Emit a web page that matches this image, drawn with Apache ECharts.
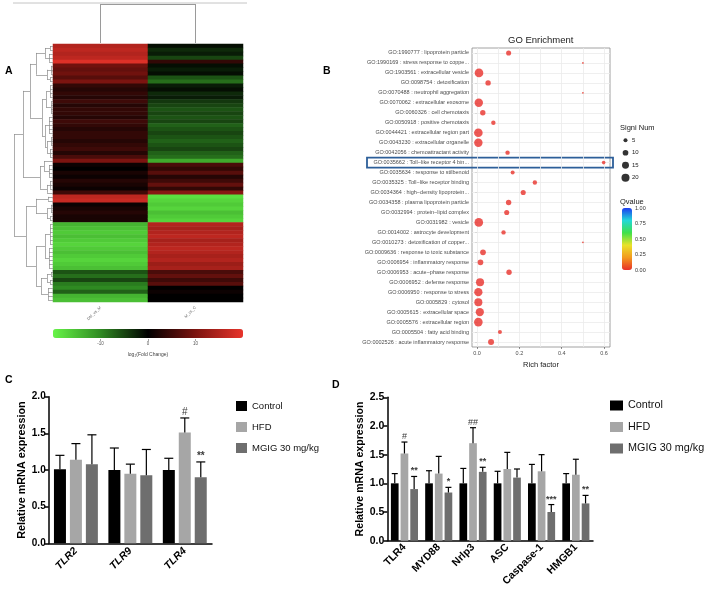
<!DOCTYPE html>
<html><head><meta charset="utf-8">
<script src="https://cdn.jsdelivr.net/npm/echarts@6/dist/echarts.min.js"></script>
<style>html,body{margin:0;padding:0;background:#fff}#c{width:709px;height:591px}</style>
</head><body><div id="c"></div>
<script>
// ---------- Panel A : heatmap ----------
const heatCols = ['DM_vs_M', 'M_vs_C'];
const heatLeft = [15,16,15,16, 19, 9,8,9,7,10,
  4,3,4,3,5,3,4,4,3,5,4,3,4,4,3,4,5,3,6,
  10, 1,0,2,1,3,2,1, 5, 16,17, 1,2,3,2,2,
  -14,-15,-16,-15,-16,-17,-16,-15,-16,-17,-16,-15,
  -6,-8,-5,-9, -10,-7,-14,-15];
const heatRight = [-1,-3,-2,-5, 4, -1,-2,-1,-6,-8,
  -2,-1,-3,-2,-4,-5,-6,-5,-6,-5,-7,-6,-5,-6,-7,-6,-5,-7,-8,
  -13, 6,4,7,3,5,8,4, 11, -18,-17, -16,-17,-15,-16,-17,
  15,14,15,16,14,15,16,15,14,15,13,14,
  6,8,5,7, 0,1,0,0];
const fcTicks = [-10, 0, 10];
// row dendrogram: h = merge height, c = children, r = fan of leaf rows
const rowTree = {h:39, c:[
  {h:30, c:[
    {h:23, c:[
      {h:17, c:[
        {h:8, c:[{h:3, r:[0,1]}, {h:4, r:[2,4]}]},
        {h:6, c:[{h:2, r:[5,7]}, {h:3, r:[8,9]}]}
      ]},
      {h:11, c:[
        {h:7, c:[{h:3, r:[10,13]}, {h:2, r:[14,17]}]},
        {h:8, c:[{h:4, r:[18,22]}, {h:6, c:[{h:2, r:[23,25]}, {h:3, r:[26,28]}]}]}
      ]}
    ]},
    {h:13, c:[
      {h:9, c:[29, {h:4, r:[30,33]}]},
      {h:6, c:[{h:3, r:[34,36]}, 37]}
    ]}
  ]},
  {h:27, c:[
    {h:17, c:[{h:5, r:[38,39]}, {h:6, c:[{h:2, r:[40,42]}, {h:3, r:[43,44]}]}]},
    {h:17, c:[
      {h:8, c:[{h:3, r:[45,50]}, {h:4, r:[51,56]}]},
      {h:12, c:[{h:6, c:[{h:2, r:[57,58]}, {h:3, r:[59,60]}]}, {h:5, r:[61,64]}]}
    ]}
  ]}
]};
const colTree = {h:39, c:[0, 1]};

// ---------- Panel B : GO enrichment ----------
const goTerms = [
  'GO:1990777 : lipoprotein particle',
  'GO:1990169 : stress response to coppe...',
  'GO:1903561 : extracellular vesicle',
  'GO:0098754 : detoxification',
  'GO:0070488 : neutrophil aggregation',
  'GO:0070062 : extracellular exosome',
  'GO:0060326 : cell chemotaxis',
  'GO:0050918 : positive chemotaxis',
  'GO:0044421 : extracellular region part',
  'GO:0043230 : extracellular organelle',
  'GO:0042056 : chemoattractant activity',
  'GO:0035662 : Toll\u2212like receptor 4 bin...',
  'GO:0035634 : response to stilbenoid',
  'GO:0035325 : Toll\u2212like receptor binding',
  'GO:0034364 : high\u2212density lipoprotein...',
  'GO:0034358 : plasma lipoprotein particle',
  'GO:0032994 : protein\u2212lipid complex',
  'GO:0031982 : vesicle',
  'GO:0014002 : astrocyte development',
  'GO:0010273 : detoxification of copper...',
  'GO:0009636 : response to toxic substance',
  'GO:0006954 : inflammatory response',
  'GO:0006953 : acute\u2212phase response',
  'GO:0006952 : defense response',
  'GO:0006950 : response to stress',
  'GO:0005829 : cytosol',
  'GO:0005615 : extracellular space',
  'GO:0005576 : extracellular region',
  'GO:0005504 : fatty acid binding',
  'GO:0002526 : acute inflammatory response'
];
const richFactor = [0.149,0.5,0.009,0.052,0.5,0.008,0.027,0.077,0.006,0.006,
  0.144,0.598,0.168,0.273,0.218,0.149,0.14,0.008,0.125,0.5,
  0.028,0.016,0.151,0.014,0.006,0.006,0.013,0.006,0.108,0.066];
const signiNum = [8,1,23,9,1,22,9,6,23,22,
  6,4,5,6,8,9,8,23,6,1,
  10,10,9,20,21,20,21,23,5,11];
const qValue = [0.002,0.01,0,0.001,0.01,0,0.001,0.003,0,0,
  0.003,0.004,0.004,0.003,0.002,0.002,0.002,0,0.003,0.01,
  0.001,0.001,0.002,0,0,0,0,0,0.004,0.001];
const richTicks = [0, 0.2, 0.4, 0.6];
const richGridLines = [0, 0.1, 0.2, 0.3, 0.4, 0.5, 0.6];
const sizeLegend = [5, 10, 15, 20];
const qTicks = [0, 0.25, 0.5, 0.75, 1];
const highlightTerm = 'GO:0035662 : Toll\u2212like receptor 4 bin...';

// ---------- Panel C ----------
const groups = ['Control', 'HFD', 'MGIG 30 mg/kg'];
const cGenes = ['TLR2', 'TLR9', 'TLR4'];
const cControl = [1.01, 1.00, 1.00];
const cControlErr = [1.20, 1.30, 1.16];
const cHFD = [1.14, 0.95, 1.51];
const cHFDErr = [1.36, 1.08, 1.71];
const cMGIG = [1.08, 0.93, 0.90];
const cMGIGErr = [1.48, 1.28, 1.11];
const cMarksControl = ['', '', ''];
const cMarksHFD = ['', '', '#'];
const cMarksMGIG = ['', '', '**'];

// ---------- Panel D ----------
const dGenes = ['TLR4', 'MYD88', 'Nrlp3', 'ASC', 'Caspase-1', 'HMGB1'];
const dControl = [1.00, 1.00, 1.00, 1.00, 1.00, 1.00];
const dControlErr = [1.17, 1.22, 1.26, 1.21, 1.33, 1.17];
const dHFD = [1.52, 1.17, 1.70, 1.25, 1.21, 1.15];
const dHFDErr = [1.72, 1.47, 1.97, 1.54, 1.50, 1.42];
const dMGIG = [0.90, 0.84, 1.20, 1.10, 0.50, 0.65];
const dMGIGErr = [1.12, 0.93, 1.28, 1.25, 0.63, 0.79];
const dMarksControl = ['', '', '', '', '', ''];
const dMarksHFD = ['#', '', '##', '', '', ''];
const dMarksMGIG = ['**', '*', '**', '', '***', '**'];

// ================= build =================
const FONT = 'Liberation Sans, Arial, Helvetica, sans-serif';
const chart = echarts.init(document.getElementById('c'), null, {renderer: 'canvas'});

function dendro(node, out, swap) {
  if (typeof node === 'number') return {y: node + 0.5, h: 0};
  let kids;
  if (node.r) { kids = []; for (let i = node.r[0]; i <= node.r[1]; i++) kids.push({y: i + 0.5, h: 0}); }
  else kids = node.c.map(k => dendro(k, out, swap));
  const P = (h, y) => swap ? [y, h] : [h, y];
  kids.forEach(k => out.push({coords: [P(k.h, k.y), P(node.h, k.y)]}));
  const y0 = kids[0].y, y1 = kids[kids.length - 1].y;
  out.push({coords: [P(node.h, y0), P(node.h, y1)]});
  return {y: (y0 + y1) / 2, h: node.h};
}
const rowSegs = []; dendro(rowTree, rowSegs, false);
const colSegs = []; dendro(colTree, colSegs, true);

const heatData = [];
heatLeft.forEach((v, i) => heatData.push([0, i, v]));
heatRight.forEach((v, i) => heatData.push([1, i, v]));
const rowIds = heatLeft.map((_, i) => String(i));

const dotSize = n => 1.8 * Math.sqrt(n);

function errSeries(name, xi, yi, vals, errs, marks, step, cap, fs) {
  const data = [];
  vals.forEach((vs, g) => vs.forEach((v, c) => data.push([c, g, v, errs[g][c]])));
  return {
    type: 'custom', name: name + '_err', xAxisIndex: xi, yAxisIndex: yi, z: 5, silent: true,
    encode: {x: 0, y: [2, 3]},
    data: data,
    renderItem: (params, api) => {
      const c = api.value(0), g = api.value(1), v = api.value(2), e = api.value(3);
      const b = api.coord([c, v]), t = api.coord([c, e]);
      const x = b[0] + (g - 1) * step;
      const kids = [
        {type: 'line', shape: {x1: x, y1: b[1], x2: x, y2: t[1]}, style: {stroke: '#000', lineWidth: 1.2}},
        {type: 'line', shape: {x1: x - cap / 2, y1: t[1], x2: x + cap / 2, y2: t[1]}, style: {stroke: '#000', lineWidth: 1.2}}
      ];
      const m = marks[g][c];
      if (m) kids.push({type: 'text', style: {text: m, x: x, y: t[1] - 1, align: 'center', verticalAlign: 'bottom',
        fill: '#3a3a3a', font: (m.indexOf('*') >= 0 ? 'bold ' : '') + fs + 'px ' + FONT}});
      return {type: 'group', children: kids};
    }
  };
}
const barColors = ['#000000', '#a6a6a6', '#6e6e6e'];

const series = [];
const S = {};
S.heat = series.length; series.push({type: 'heatmap', xAxisIndex: 0, yAxisIndex: 0, data: heatData, silent: true});
series.push({type: 'lines', coordinateSystem: 'cartesian2d', xAxisIndex: 1, yAxisIndex: 1, data: rowSegs, silent: true,
  lineStyle: {color: '#8a8a8a', width: 0.7, opacity: 1}});
series.push({type: 'lines', coordinateSystem: 'cartesian2d', xAxisIndex: 2, yAxisIndex: 2, data: colSegs, silent: true,
  lineStyle: {color: '#9a9a9a', width: 1, opacity: 1}});
// GO grid lines (drawn beneath the dots)
series.push({type: 'scatter', xAxisIndex: 4, yAxisIndex: 4, z: 1, silent: true, symbolSize: 0,
  data: [[0, goTerms[0]]], itemStyle: {opacity: 0},
  markLine: {z: 1, silent: true, symbol: 'none', label: {show: false}, animation: false,
    lineStyle: {color: '#ebebeb', width: 0.8, type: 'solid'},
    data: richGridLines.map(v => ({xAxis: v})).concat(goTerms.map(t => ({yAxis: t})))}});
S.go = series.length;
series.push({type: 'scatter', xAxisIndex: 4, yAxisIndex: 4, z: 6, silent: true,
  data: goTerms.map((t, i) => [richFactor[i], t, qValue[i], signiNum[i]]),
  symbolSize: d => dotSize(d[3])});
series.push({type: 'scatter', xAxisIndex: 6, yAxisIndex: 6, silent: true,
  data: sizeLegend.map(v => [0, String(v), v]), symbolSize: d => dotSize(d[2]), itemStyle: {color: '#000'}});
// Panel C bars
const cVals = [cControl, cHFD, cMGIG], cErrs = [cControlErr, cHFDErr, cMGIGErr];
groups.forEach((g, i) => series.push({type: 'bar', name: g, xAxisIndex: 7, yAxisIndex: 7, data: cVals[i],
  barWidth: 12, barGap: '33%', itemStyle: {color: barColors[i]}, silent: true}));
series.push(errSeries('C', 7, 7, cVals, cErrs, [cMarksControl, cMarksHFD, cMarksMGIG], 16, 9, 10));
// Panel D bars
const dVals = [dControl, dHFD, dMGIG], dErrs = [dControlErr, dHFDErr, dMGIGErr];
groups.forEach((g, i) => series.push({type: 'bar', name: g, xAxisIndex: 8, yAxisIndex: 8, data: dVals[i],
  barWidth: 7.7, barGap: '26%', itemStyle: {color: barColors[i]}, silent: true}));
series.push(errSeries('D', 8, 8, dVals, dErrs, [dMarksControl, dMarksHFD, dMarksMGIG], 9.7, 6, 9));

const hidden = {show: false};
const option = {
  animation: false,
  backgroundColor: '#fff',
  textStyle: {fontFamily: FONT},
  title: [
    {text: 'A', left: 5, top: 66, padding: 0, textStyle: {fontSize: 10.5, fontWeight: 'bold', color: '#000'}},
    {text: 'B', left: 323, top: 66, padding: 0, textStyle: {fontSize: 10.5, fontWeight: 'bold', color: '#000'}},
    {text: 'C', left: 5, top: 375, padding: 0, textStyle: {fontSize: 10.5, fontWeight: 'bold', color: '#000'}},
    {text: 'D', left: 332, top: 380, padding: 0, textStyle: {fontSize: 10.5, fontWeight: 'bold', color: '#000'}},
    {text: 'GO Enrichment', left: 508, top: 35, padding: 0, textStyle: {fontSize: 9.5, fontWeight: 'normal', color: '#1a1a1a'}},
    {text: 'Signi Num', left: 620, top: 124, padding: 0, textStyle: {fontSize: 7.5, fontWeight: 'normal', color: '#1a1a1a'}},
    {text: 'Qvalue', left: 620, top: 198, padding: 0, textStyle: {fontSize: 7.5, fontWeight: 'normal', color: '#1a1a1a'}}
  ],
  grid: [
    {left: 53, top: 44, width: 190, height: 258},          // 0 heatmap
    {left: 14, top: 44, width: 39, height: 258},           // 1 row dendro
    {left: 53, top: 4, width: 190, height: 39},            // 2 col dendro
    {left: 53, top: 338, width: 190, height: 1},           // 3 fc axis
    {left: 472, top: 48, width: 138, height: 299, show: true, borderColor: '#8a8a8a', borderWidth: 0.8, backgroundColor: '#fff'}, // 4 GO
    {left: 622, top: 208, width: 10, height: 62},          // 5 qvalue axis
    {left: 620, top: 134, width: 11, height: 50},          // 6 size legend
    {left: 48.7, top: 396.7, width: 163.3, height: 146.6}, // 7 C
    {left: 387.3, top: 397.3, width: 205.7, height: 143.4} // 8 D
  ],
  xAxis: [
    {gridIndex: 0, type: 'category', data: heatCols, axisLine: hidden, axisTick: hidden, splitLine: hidden,
      axisLabel: {rotate: 45, fontSize: 4, color: '#666', margin: 5}},
    {gridIndex: 1, type: 'value', min: 0, max: 39, inverse: true, show: false},
    {gridIndex: 2, type: 'value', min: 0, max: 2, show: false},
    {gridIndex: 3, type: 'value', min: -20, max: 20, axisLine: hidden, splitLine: hidden,
      axisTick: {show: true, customValues: fcTicks, length: 2, lineStyle: {color: '#666', width: 0.6}},
      axisLabel: {customValues: fcTicks, fontSize: 4.5, color: '#555', margin: 2},
      name: 'log\u2082(Fold Change)', nameLocation: 'middle', nameGap: 13, nameTextStyle: {fontSize: 5, color: '#444'}},
    {gridIndex: 4, type: 'value', min: -0.024, max: 0.628, axisLine: hidden, splitLine: hidden,
      axisTick: {show: true, customValues: richTicks, length: 2, lineStyle: {color: '#444', width: 0.6}},
      axisLabel: {customValues: richTicks, formatter: v => v.toFixed(1), fontSize: 5.5, color: '#4d4d4d', margin: 3},
      name: 'Rich factor', nameLocation: 'middle', nameGap: 14, nameTextStyle: {fontSize: 7.5, color: '#1a1a1a'}},
    {gridIndex: 5, type: 'value', show: false},
    {gridIndex: 6, type: 'value', min: -1, max: 1, show: false},
    {gridIndex: 7, type: 'category', data: cGenes,
      axisLine: {lineStyle: {color: '#000', width: 1.5}},
      axisTick: {alignWithLabel: true, length: 4, lineStyle: {color: '#000', width: 1.5}},
      axisLabel: {interval: 0, rotate: 45, fontStyle: 'italic', fontWeight: 'bold', fontSize: 10.5, color: '#000', margin: 6}},
    {gridIndex: 8, type: 'category', data: dGenes,
      axisLine: {lineStyle: {color: '#000', width: 1.5}},
      axisTick: {alignWithLabel: true, length: 4, lineStyle: {color: '#000', width: 1.5}},
      axisLabel: {interval: 0, rotate: 45, fontWeight: 'bold', fontSize: 10.5, color: '#000', margin: 5}}
  ],
  yAxis: [
    {gridIndex: 0, type: 'category', data: rowIds, inverse: true, show: false},
    {gridIndex: 1, type: 'value', min: 0, max: heatLeft.length, inverse: true, show: false},
    {gridIndex: 2, type: 'value', min: 0, max: colTree.h, show: false},
    {gridIndex: 3, type: 'value', show: false},
    {gridIndex: 4, type: 'category', data: goTerms, inverse: true, axisLine: hidden, splitLine: hidden,
      axisTick: {show: true, alignWithLabel: true, length: 2, lineStyle: {color: '#444', width: 0.6}},
      axisLabel: {interval: 0, fontSize: 5.5, color: '#4d4d4d', margin: 3}},
    {gridIndex: 5, type: 'value', min: 0, max: 1, interval: 0.25, position: 'right', axisLine: hidden, axisTick: hidden, splitLine: hidden,
      axisLabel: {formatter: v => v.toFixed(2), fontSize: 5.5, color: '#333', margin: 3}},
    {gridIndex: 6, type: 'category', data: sizeLegend.map(String), inverse: true, position: 'right',
      axisLine: hidden, axisTick: hidden, splitLine: hidden, axisLabel: {fontSize: 6, color: '#222', margin: 1}},
    {gridIndex: 7, type: 'value', min: 0, max: 2, interval: 0.5, splitLine: hidden,
      axisLine: {show: true, lineStyle: {color: '#000', width: 1.5}},
      axisTick: {show: true, length: 4, lineStyle: {color: '#000', width: 1.5}},
      axisLabel: {formatter: v => v.toFixed(1), fontWeight: 'bold', fontSize: 10, color: '#000', margin: 3},
      name: 'Relative mRNA expression', nameLocation: 'middle', nameGap: 21,
      nameTextStyle: {fontWeight: 'bold', fontSize: 10.8, color: '#000'}},
    {gridIndex: 8, type: 'value', min: 0, max: 2.5, interval: 0.5, splitLine: hidden,
      axisLine: {show: true, lineStyle: {color: '#000', width: 1.5}},
      axisTick: {show: true, length: 4, lineStyle: {color: '#000', width: 1.5}},
      axisLabel: {formatter: v => v.toFixed(1), fontWeight: 'bold', fontSize: 10.5, color: '#000', margin: 3},
      name: 'Relative mRNA expression', nameLocation: 'middle', nameGap: 22,
      nameTextStyle: {fontWeight: 'bold', fontSize: 10.6, color: '#000'}}
  ],
  visualMap: [
    {type: 'continuous', seriesIndex: S.heat, dimension: 2, min: -20, max: 20, orient: 'horizontal',
      left: 53, top: 329, itemWidth: 9, itemHeight: 190, padding: 0, calculable: false, hoverLink: false, text: null,
      inRange: {color: ['#66f447', '#2f8a22', '#000000', '#7c1410', '#e8342b']}},
    {type: 'continuous', seriesIndex: S.go, dimension: 2, min: 0, max: 1, orient: 'vertical',
      left: 622, top: 208, itemWidth: 10, itemHeight: 62, padding: 0, calculable: false, hoverLink: false, text: null,
      inRange: {color: ['#e8302a', '#f39a1e', '#e9e22a', '#3fe04a', '#22d8d8', '#1d3cf2']}}
  ],
  legend: [
    {data: groups, left: 236, top: 401, orient: 'vertical', icon: 'rect', itemWidth: 11, itemHeight: 10, itemGap: 11,
      selectedMode: false, padding: 0, itemStyle: {borderWidth: 0}, textStyle: {fontSize: 9.5, color: '#111'}},
    {data: groups, left: 610, top: 400, orient: 'vertical', icon: 'rect', itemWidth: 13, itemHeight: 10, itemGap: 10.5,
      selectedMode: false, padding: 0, itemStyle: {borderWidth: 0}, textStyle: {fontSize: 10.8, color: '#111'}}
  ],
  series: series
};
chart.setOption(option);

// annotation: blue box around the highlighted GO term, and top border line of panel A
const hp = chart.convertToPixel({gridIndex: 4}, [0, highlightTerm]);
chart.setOption({graphic: [
  {type: 'rect', shape: {x: 367, y: hp[1] - 5, width: 246, height: 10}, style: {fill: 'none', stroke: '#2d5f99', lineWidth: 1.8}, silent: true},
  {type: 'line', shape: {x1: 13, y1: 3, x2: 247, y2: 3}, style: {stroke: '#c4c4c4', lineWidth: 1}, silent: true}
]});
</script>
</body></html>
